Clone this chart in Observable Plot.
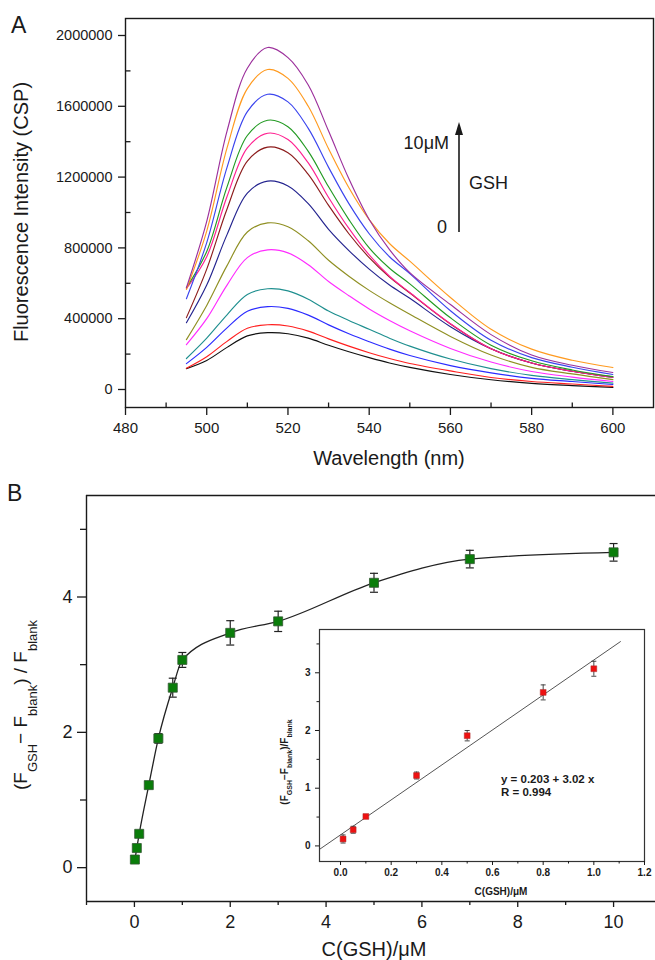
<!DOCTYPE html>
<html><head><meta charset="utf-8">
<script src="https://cdn.jsdelivr.net/npm/d3@7"></script>
<script src="https://cdn.jsdelivr.net/npm/@observablehq/plot@0.6"></script>
<style>
html,body{margin:0;padding:0;background:#fff;}
#chart{position:relative;width:655px;height:960px;overflow:hidden;background:#fff;}
#chart svg{position:absolute;left:0;top:0;}
</style></head><body><div id="chart"></div>
<script>
// ---------------- Panel A data (fluorescence spectra, intensity in thousands of counts) ----------------
const wavelengths = [495,500,505,510,515,520,525,530,535,540,545,550,560,570,580,590,600];
const gshLevels   = ["0 μM","0.01 μM","0.05 μM","0.1 μM","0.3 μM","0.5 μM","0.8 μM","1 μM","2 μM","3 μM","5 μM","7 μM","10 μM"];
const lineColors  = ["#111111","#ff1f1f","#2b2bff","#1f8f8f","#ff2bff","#8f8f22","#24248f","#8c1c1c","#ff2090","#229a22","#3a44ee","#ff9a1f","#9c309c"];
const spec_0uM    = [118,164,238,303,321,315,290,250,213,180,150,125, 85, 55, 35, 22, 12];
const spec_0_01uM = [120,185,272,346,366,359,330,286,245,208,175,147,105, 68, 45, 31, 18];
const spec_0_05uM = [146,238,348,442,468,458,420,365,315,270,228,192,135, 94, 63, 45, 28];
const spec_0_1uM  = [175,290,422,537,569,557,510,443,390,340,290,245,172,118, 80, 56, 36];
const spec_0_3uM  = [253,400,590,745,789,772,705,610,530,455,390,332,232,155,102, 70, 45];
const spec_0_5uM  = [282,475,700,890,941,920,840,730,640,560,490,425,300,195,125, 88, 56];
const spec_0_8uM  = [377,590,875,1110,1177,1150,1050,905,785,680,590,515,355,230,150,103,68];
const spec_1uM    = [406,680,1020,1290,1369,1338,1215,1040,880,745,635,545,370,230,150,103,72];
const spec_2uM    = [570,750,1090,1365,1448,1412,1280,1085,910,760,640,548,372,230,150,103,68];
const spec_3uM    = [575,780,1145,1435,1521,1485,1345,1145,960,800,685,597,405,250,162,110,73];
const spec_5uM    = [513,830,1255,1570,1668,1625,1475,1255,1050,880,750,655,445,278,180,126,85];
const spec_7uM    = [565,895,1365,1700,1808,1758,1600,1360,1140,960,825,725,520,340,228,165,124];
const spec_10uM   = [575,950,1460,1815,1932,1875,1720,1460,1190,960,790,660,480,310,195,137,96];
const spectra = [spec_0uM,spec_0_01uM,spec_0_05uM,spec_0_1uM,spec_0_3uM,spec_0_5uM,spec_0_8uM,spec_1uM,spec_2uM,spec_3uM,spec_5uM,spec_7uM,spec_10uM];
const xTicksA = [480,500,520,540,560,580,600];
const xMinorA = [490,510,530,550,570,590];
const yTicksA = [0,400000,800000,1200000,1600000,2000000];
const yMinorA = [200000,600000,1000000,1400000,1800000];

// ---------------- Panel B data ----------------
const concB  = [0.01,0.05,0.1,0.3,0.5,0.8,1,2,3,5,7,10];
const ratioB = [0.12,0.29,0.50,1.22,1.91,2.66,3.07,3.47,3.64,4.21,4.56,4.66];
const errB   = [0.05,0.05,0.04,0.05,0.07,0.14,0.11,0.18,0.15,0.14,0.13,0.13];
const xTicksB = [0,2,4,6,8,10];
const xMinorB = [-1,1,3,5,7,9];
const yTicksB = [0,2,4];
const yMinorB = [1,3,5];

// ---------------- Inset data ----------------
const concIn  = [0.01,0.05,0.1,0.3,0.5,0.8,1.0];
const ratioIn = [0.12,0.28,0.51,1.22,1.91,2.66,3.07];
const errIn   = [0.07,0.06,0.03,0.06,0.09,0.13,0.13];
const fitX    = [-0.083,1.105];
const fitY    = [-0.06,3.54];
const xTicksIn = [0,0.2,0.4,0.6,0.8,1.0,1.2];
const xMinorIn = [0.1,0.3,0.5,0.7,0.9,1.1];
const yTicksIn = [0,1,2,3];
const yMinorIn = [0.5,1.5,2.5,3.5];

// ---------------- helpers ----------------
const FONT = "'Liberation Sans', Arial, Helvetica, sans-serif";
const INK = "#1a1a1a";
const baseStyle = {background:"transparent", fontFamily:FONT, color:INK, overflow:"visible"};
const tickUp = L => ({draw(ctx){ctx.moveTo(0,0);ctx.lineTo(0,-L);}});
const tickRight = L => ({draw(ctx){ctx.moveTo(0,0);ctx.lineTo(L,0);}});
const capSym = w => ({draw(ctx){ctx.moveTo(-w/2,0);ctx.lineTo(w/2,0);}});

function richText(svg, x, y, parts, size, subSize, shift, rotate, weight){
  const t = svg.append("text")
    .attr("transform", `translate(${x},${y}) rotate(${rotate})`)
    .attr("text-anchor","middle").attr("font-size",size)
    .attr("font-weight",weight||"normal").attr("fill",INK).attr("font-family",FONT);
  let cur = 0;
  parts.forEach(([s,sub])=>{
    const target = sub ? shift : 0;
    const ts = t.append("tspan").text(s).attr("dy", target-cur);
    if (sub) ts.attr("font-size", subSize);
    cur = target;
  });
  return t;
}
function label(svg, x, y, text, size, anchor, weight, rotate){
  return svg.append("text").attr("transform",`translate(${x},${y}) rotate(${rotate||0})`)
    .attr("text-anchor",anchor||"start").attr("font-size",size).attr("font-weight",weight||"normal")
    .attr("fill",INK).attr("font-family",FONT).text(text);
}

const root = document.getElementById("chart");

// ---------------- Panel A ----------------
const specRows = [];
gshLevels.forEach((name,i)=> spectra[i].forEach((v,j)=> specRows.push({name, wl:wavelengths[j], v:v*1000})));
const yMinA = -101700, yMaxA = 2096000;

const plotA = Plot.plot({
  width:655, height:960, marginTop:18, marginBottom:553, marginLeft:125, marginRight:2,
  style: baseStyle,
  x:{domain:[480,610]}, y:{domain:[yMinA,yMaxA]},
  color:{domain:gshLevels, range:lineColors},
  marks:[
    Plot.line(specRows,{x:"wl", y:"v", z:"name", stroke:"name", curve:"catmull-rom", strokeWidth:1.15}),
    Plot.frame({stroke:INK, strokeWidth:1.4}),
    Plot.axisX({ticks:xTicksA, tickSize:8, tickPadding:7, fontSize:15, strokeWidth:1.3, tickFormat:d=>String(d), label:null}),
    Plot.axisY({ticks:yTicksA, tickSize:7, tickPadding:6, fontSize:14.5, strokeWidth:1.3, tickFormat:d=>String(d), label:null}),
    Plot.dot(xMinorA,{x:d=>d, y:yMinA, r:1, symbol:tickUp(5), fill:"none", stroke:INK, strokeWidth:1.3}),
    Plot.dot(yMinorA,{x:480, y:d=>d, r:1, symbol:tickRight(5), fill:"none", stroke:INK, strokeWidth:1.3})
  ]
});
root.appendChild(plotA);
{
  const s = d3.select(plotA);
  label(s, 11, 33, "A", 23);
  label(s, 28, 212, "Fluorescence Intensity (CSP)", 20, "middle", "normal", -90);
  label(s, 389, 465, "Wavelength (nm)", 20, "middle");
  s.append("line").attr("x1",459).attr("x2",459).attr("y1",232).attr("y2",132).attr("stroke",INK).attr("stroke-width",1.6);
  s.append("path").attr("d","M459,122L455,135L463,135Z").attr("fill",INK);
  label(s, 449, 149, "10μM", 18, "end");
  label(s, 469, 189, "GSH", 18, "start");
  label(s, 447, 233, "0", 18, "end");
}

// ---------------- Panel B ----------------
const rowsB = concB.map((c,i)=>({c, r:ratioB[i], lo:ratioB[i]-errB[i], hi:ratioB[i]+errB[i]}));
const plotB = Plot.plot({
  width:655, height:960, marginTop:495, marginBottom:59, marginLeft:86, marginRight:0,
  style: baseStyle,
  x:{domain:[-1,10.875]}, y:{domain:[-0.5,5.5]},
  marks:[
    Plot.ruleY([5.5],{stroke:INK, strokeWidth:1.4}),
    Plot.ruleY([-0.5],{stroke:INK, strokeWidth:1.4}),
    Plot.ruleX([-1],{stroke:INK, strokeWidth:1.4}),
    Plot.line(rowsB,{x:"c", y:"r", curve:"monotone-x", stroke:"#222", strokeWidth:1.3}),
    Plot.ruleX(rowsB,{x:"c", y1:"lo", y2:"hi", stroke:"#222", strokeWidth:1.2}),
    Plot.dot(rowsB,{x:"c", y:"lo", r:1, symbol:capSym(8), fill:"none", stroke:"#222", strokeWidth:1.2}),
    Plot.dot(rowsB,{x:"c", y:"hi", r:1, symbol:capSym(8), fill:"none", stroke:"#222", strokeWidth:1.2}),
    Plot.dot(rowsB,{x:"c", y:"r", r:5.1, symbol:"square", fill:"#0a7d0a", stroke:"#345834", strokeWidth:0.8}),
    Plot.axisX({ticks:xTicksB, tickSize:6, tickPadding:8, fontSize:18, strokeWidth:1.3, tickFormat:d=>String(d), label:null}),
    Plot.axisX({ticks:xMinorB, tickSize:4, strokeWidth:1.3, tickFormat:()=>"", label:null}),
    Plot.axisY({ticks:yTicksB, tickSize:9, tickPadding:5, fontSize:18, strokeWidth:1.3, tickFormat:d=>String(d), label:null}),
    Plot.axisY({ticks:yMinorB, tickSize:6, strokeWidth:1.3, tickFormat:()=>"", label:null})
  ]
});
root.appendChild(plotB);
{
  const s = d3.select(plotB);
  label(s, 7, 501, "B", 23);
  richText(s, 27, 705, [["(F",0],["GSH",1],["\u2212 F",0],["blank",1],[") / F",0],["blank",1]], 19, 13, 10, -90);
  label(s, 374, 956, "C(GSH)/μM", 20, "middle");
}

// ---------------- Inset ----------------
const rowsIn = concIn.map((c,i)=>({c, r:ratioIn[i], lo:ratioIn[i]-errIn[i], hi:ratioIn[i]+errIn[i]}));
const fitRows = fitX.map((x,i)=>({x, y:fitY[i]}));
const plotIn = Plot.plot({
  width:655, height:960, marginTop:629, marginBottom:99, marginLeft:319, marginRight:11,
  style: baseStyle,
  x:{domain:[-0.083,1.2]}, y:{domain:[-0.27,3.75]},
  marks:[
    Plot.frame({fill:"white", stroke:null}),
    Plot.line(fitRows,{x:"x", y:"y", stroke:"#555", strokeWidth:1}),
    Plot.ruleX(rowsIn,{x:"c", y1:"lo", y2:"hi", stroke:"#333", strokeWidth:0.9}),
    Plot.dot(rowsIn,{x:"c", y:"lo", r:1, symbol:capSym(5), fill:"none", stroke:"#333", strokeWidth:0.9}),
    Plot.dot(rowsIn,{x:"c", y:"hi", r:1, symbol:capSym(5), fill:"none", stroke:"#333", strokeWidth:0.9}),
    Plot.dot(rowsIn,{x:"c", y:"r", r:3.3, symbol:"square", fill:"#ee1111", stroke:"#a83030", strokeWidth:0.5}),
    Plot.frame({stroke:"#333", strokeWidth:1.2}),
    Plot.axisX({ticks:xTicksIn, tickSize:4, tickPadding:3, fontSize:10, fontWeight:"bold", tickFormat:d3.format(".1f"), label:null}),
    Plot.axisX({ticks:xMinorIn, tickSize:2.5, tickFormat:()=>"", label:null}),
    Plot.axisY({ticks:yTicksIn, tickSize:4, tickPadding:5, fontSize:10, fontWeight:"bold", tickFormat:d=>String(d), label:null}),
    Plot.axisY({ticks:yMinorIn, tickSize:2.5, tickFormat:()=>"", label:null})
  ]
});
root.appendChild(plotIn);
{
  const s = d3.select(plotIn);
  richText(s, 288, 762, [["(F",0],["GSH",1],["\u2212F",0],["blank",1],[")/F",0],["blank",1]], 10, 7, 4, -90, "bold");
  label(s, 501, 895, "C(GSH)/μM", 10, "middle", "bold");
  label(s, 501, 783, "y = 0.203 + 3.02 x", 11.5, "start", "bold");
  label(s, 501, 796, "R = 0.994", 11.5, "start", "bold");
}
</script></body></html>
